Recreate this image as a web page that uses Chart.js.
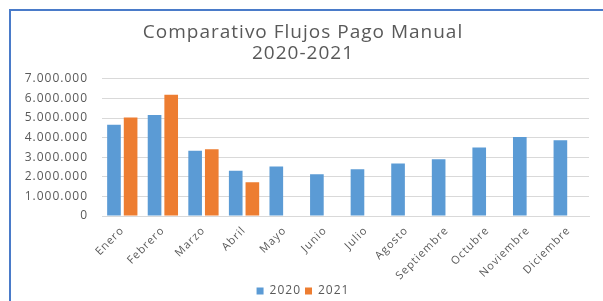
<!DOCTYPE html>
<html>
<head>
<meta charset="utf-8">
<script src="https://cdn.jsdelivr.net/npm/chart.js@4.4.1/dist/chart.umd.min.js"></script>
<style>
  body { margin: 0; background: #fff; }
  #wrap { position: relative; width: 603px; height: 301px; overflow: hidden; }
  #frame { position: absolute; left: 9px; top: 9px; width: 640px; height: 340px; border: 2px solid #4a7bc9; }
  #c { position: absolute; left: 0; top: 0; }
</style>
</head>
<body>
<div id="wrap">
  <div id="frame"></div>
  <canvas id="c" width="603" height="309"></canvas>
</div>
<script>
const months = ["Enero", "Febrero", "Marzo", "Abril", "Mayo", "Junio", "Julio", "Agosto", "Septiembre", "Octubre", "Noviembre", "Diciembre"];
const flujos2020 = [4650000, 5150000, 3330000, 2310000, 2520000, 2130000, 2380000, 2680000, 2890000, 3500000, 4030000, 3870000];
const flujos2021 = [5020000, 6180000, 3410000, 1720000, null, null, null, null, null, null, null, null];
const titleLines = ["Comparativo Flujos Pago Manual", "2020-2021"];

const gray = "#595959";

// miles con punto: 7.000.000
function fmt(v) {
  return String(v).replace(/\B(?=(\d{3})+(?!\d))/g, ".");
}

// the original font is wider than Open Sans, so space the letters a bit
const spacing = {
  id: "spacing",
  beforeUpdate(chart) { chart.ctx.letterSpacing = "1px"; },
  beforeDraw(chart) { chart.ctx.letterSpacing = "1px"; },
};

const ctx = document.getElementById("c").getContext("2d");
new Chart(ctx, {
  type: "bar",
  plugins: [spacing],
  data: {
    labels: months,
    datasets: [
      {
        label: "2020",
        data: flujos2020,
        backgroundColor: "#5b9bd5",
        categoryPercentage: 0.82,
        barPercentage: 0.82,
      },
      {
        label: "2021",
        data: flujos2021,
        backgroundColor: "#ed7d31",
        categoryPercentage: 0.82,
        barPercentage: 0.82,
      },
    ],
  },
  options: {
    responsive: false,
    animation: false,
    layout: { padding: { left: 17, right: 14, top: 0, bottom: 2 } },
    plugins: {
      title: {
        display: true,
        text: titleLines,
        color: gray,
        font: { family: "Open Sans", size: 19, weight: "normal", lineHeight: 1.1 },
        padding: { top: 22, bottom: 15 },
      },
      legend: {
        position: "bottom",
        labels: {
          color: gray,
          font: { family: "Open Sans", size: 12 },
          boxWidth: 7,
          boxHeight: 7,
          padding: 4,
        },
      },
      tooltip: { enabled: false },
    },
    scales: {
      x: {
        afterFit: (s) => { s.height = 65; },
        grid: { display: false },
        border: { color: "#d9d9d9" },
        ticks: {
          color: gray,
          font: { family: "Open Sans", size: 11 },
          minRotation: 45,
          maxRotation: 45,
          autoSkip: false,
          padding: 0,
        },
      },
      y: {
        min: 0,
        max: 7000000,
        afterFit: (s) => { s.width = 85; },
        grid: { color: "#d9d9d9", drawTicks: false },
        border: { display: false },
        ticks: {
          stepSize: 1000000,
          autoSkip: false,
          color: gray,
          padding: 14,
          font: { family: "Open Sans", size: 12 },
          callback: (v) => fmt(v),
        },
      },
    },
  },
});
</script>
</body>
</html>
